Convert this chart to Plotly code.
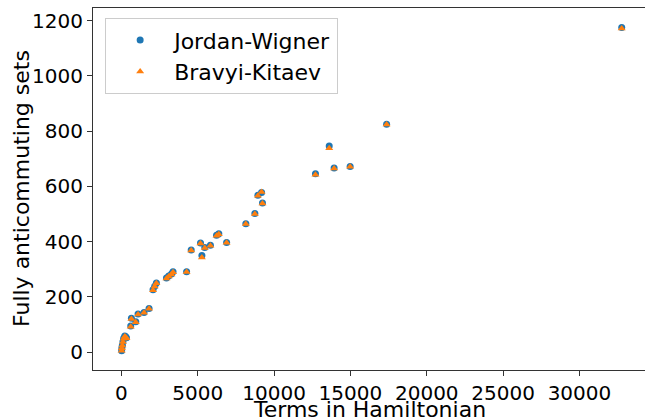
import plotly.graph_objects as go

terms = [15, 30, 60, 100, 150, 220, 280, 330, 610, 655, 940, 1090, 1480, 1810,
         2070, 2180, 2290, 2950, 3100, 3280, 3380, 4270, 4570, 5180, 5270, 5460,
         5830, 6230, 6380, 6890, 8150, 8740, 8940, 9180, 9240, 12710, 13610,
         13930, 14980, 17370, 32768]
sets_jw = [5, 15, 25, 37, 50, 58, 55, 52, 94, 122, 110, 138, 143, 158, 226, 238,
           250, 268, 275, 283, 291, 291, 370, 395, 350, 379, 387, 423, 428, 397,
           465, 502, 568, 578, 540, 646, 746, 667, 672, 825, 1175]
sets_bk = [5, 14, 24, 36, 48, 56, 54, 50, 92, 120, 108, 136, 142, 157, 224, 237,
           249, 266, 274, 281, 289, 290, 368, 393, 342, 377, 385, 421, 427, 396,
           464, 500, 566, 580, 538, 642, 738, 665, 671, 824, 1172]

x_ticks = [0, 5000, 10000, 15000, 20000, 25000, 30000]
y_ticks = [0, 200, 400, 600, 800, 1000, 1200]
x_title = "Terms in Hamiltonian"
y_title = "Fully anticommuting sets"

FS = 22      # titles and legend
TFS = 20     # tick labels

fig = go.Figure()
fig.add_trace(go.Scatter(x=terms, y=sets_jw, mode="markers", name="Jordan-Wigner",
                         marker=dict(symbol="circle", size=7, color="#1f77b4")))
fig.add_trace(go.Scatter(x=terms, y=sets_bk, mode="markers", name="Bravyi-Kitaev",
                         marker=dict(symbol="triangle-up", size=7, color="#ff7f0e")))

fig.update_layout(
    width=645, height=420,
    margin=dict(l=93, r=0, t=8, b=50),
    paper_bgcolor="white", plot_bgcolor="white",
    font=dict(family="DejaVu Sans", size=FS, color="black"),
    legend=dict(x=0.022, y=0.972, xanchor="left", yanchor="top",
                bordercolor="#cccccc", borderwidth=1, bgcolor="white",
                font=dict(size=FS), itemwidth=58),
    showlegend=True,
    annotations=[
        dict(text=x_title, xref="paper", yref="paper", x=0.5, y=0,
             xanchor="center", yanchor="middle", yshift=-39, borderpad=0,
             showarrow=False, font=dict(size=FS)),
        dict(text=y_title, xref="paper", yref="paper", x=0, y=0.5,
             xanchor="center", yanchor="middle", xshift=-72, textangle=-90,
             borderpad=0, showarrow=False, font=dict(size=FS)),
    ],
)
fig.update_xaxes(
    range=[-1861, 34293], tickvals=x_ticks, ticktext=[str(v) for v in x_ticks],
    showgrid=False, zeroline=False, showline=True, mirror=True,
    linecolor="#333333", linewidth=1, ticks="outside", ticklen=5,
    tickcolor="#333333", tickfont=dict(size=TFS), automargin=False,
)
fig.update_yaxes(
    range=[-65, 1246], tickvals=y_ticks, ticktext=[str(v) for v in y_ticks],
    showgrid=False, zeroline=False, showline=True, mirror=False,
    linecolor="#333333", linewidth=1, ticks="outside", ticklen=5,
    tickcolor="#333333", tickfont=dict(size=TFS), automargin=False,
)

fig.write_html(
    "out.html",
    config={"displayModeBar": False},
    post_script="document.body.style.margin='0';document.body.style.padding='0';",
)
